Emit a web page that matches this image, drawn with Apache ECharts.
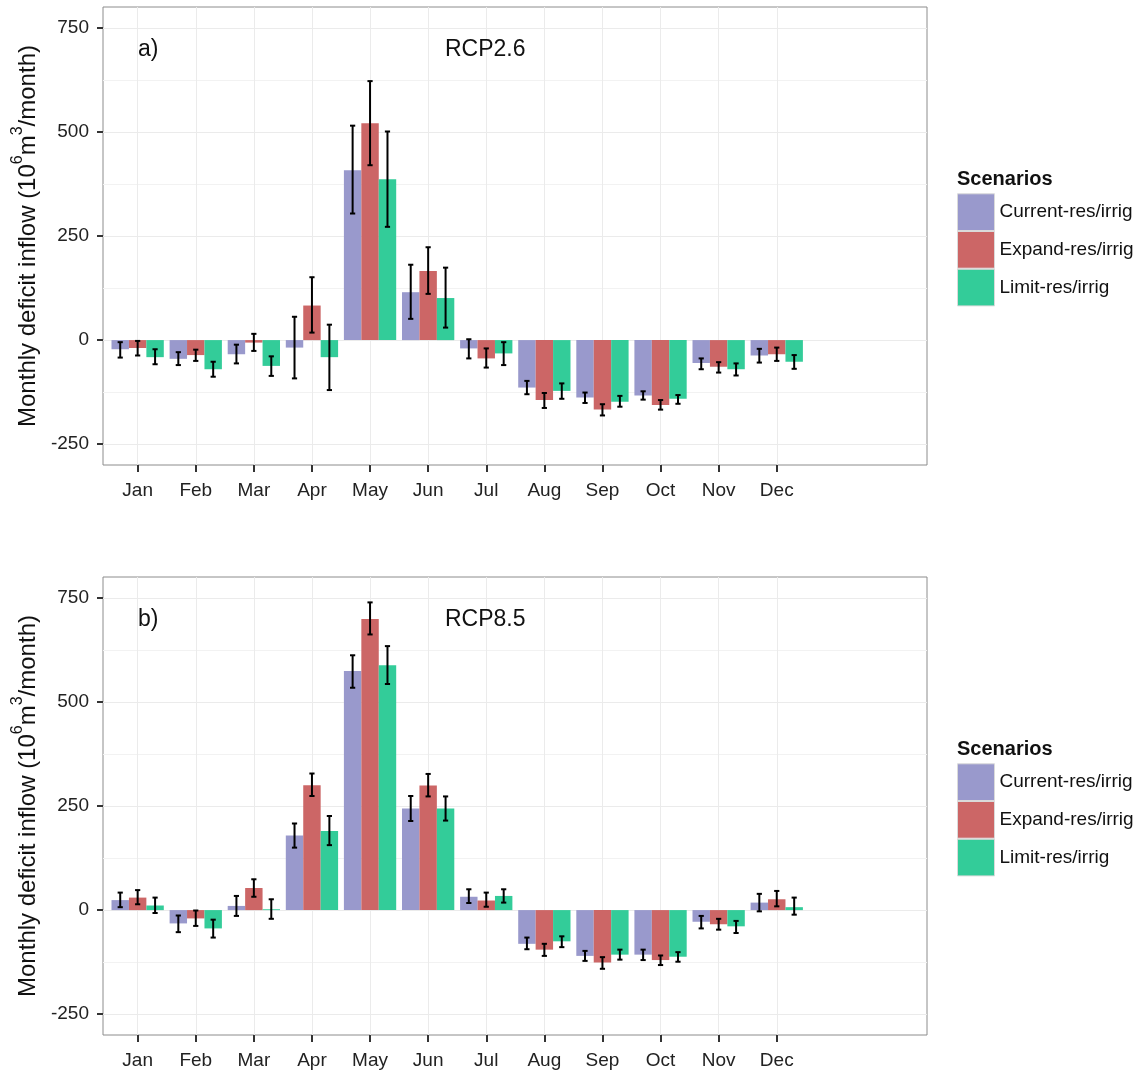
<!DOCTYPE html>
<html>
<head>
<meta charset="utf-8">
<script src="https://cdn.jsdelivr.net/npm/echarts@6/dist/echarts.min.js"></script>
<style>
  html, body { margin: 0; padding: 0; background: #fff; }
  #chart { width: 1145px; height: 1070px; }
</style>
</head>
<body>
<div id="chart"></div>
<script>
// ---------------- DATA ----------------
const months = ['Jan','Feb','Mar','Apr','May','Jun','Jul','Aug','Sep','Oct','Nov','Dec'];
const scenarioNames = ['Current-res/irrig','Expand-res/irrig','Limit-res/irrig'];
const yTickValues = [-250, 0, 250, 500, 750];
const yMinorValues = [-125, 125, 375, 625];

// Panel a) RCP2.6
const current26   = [-22, -45, -34, -18, 408, 115, -20, -114, -138, -133, -55, -37];
const current26Lo = [-42, -60, -56, -92, 304,  51, -44, -130, -151, -143, -70, -54];
const current26Hi = [ -5, -29, -11,  56, 515, 181,   2,  -98, -126, -123, -44, -21];
const expand26    = [-19, -36,  -6,  83, 521, 166, -44, -144, -167, -156, -64, -34];
const expand26Lo  = [-37, -50, -26,  18, 420, 111, -66, -163, -181, -167, -78, -50];
const expand26Hi  = [ -2, -23,  15, 151, 622, 223, -20, -127, -154, -144, -53, -18];
const limit26     = [-41, -70, -62, -41, 386, 101, -32, -122, -148, -141, -70, -52];
const limit26Lo   = [-58, -88, -86,-120, 272,  30, -60, -141, -160, -153, -85, -69];
const limit26Hi   = [-22, -52, -39,  37, 501, 174,  -5, -104, -134, -132, -56, -36];

// Panel b) RCP8.5
const current85   = [ 24, -32,  10, 179, 574, 244,  32,  -81, -110, -107, -28,  18];
const current85Lo = [  7, -53, -14, 150, 534, 214,  17,  -94, -122, -120, -44,  -3];
const current85Hi = [ 42, -13,  34, 208, 612, 274,  50,  -66,  -98,  -95, -14,  39];
const expand85    = [ 30, -20,  53, 300, 699, 299,  23,  -95, -126, -120, -34,  26];
const expand85Lo  = [ 14, -38,  32, 274, 662, 273,   8, -110, -141, -132, -47,   9];
const expand85Hi  = [ 48,  -1,  74, 328, 739, 327,  42,  -81, -113, -109, -21,  46];
const limit85     = [ 11, -44,   2, 190, 588, 244,  34,  -75, -107, -112, -39,   7];
const limit85Lo   = [ -7, -66, -21, 156, 543, 215,  18,  -89, -119, -124, -55, -11];
const limit85Hi   = [ 30, -23,  26, 226, 634, 273,  50,  -63,  -95, -101, -26,  30];

// ---------------- STYLE ----------------
const colors = ['#9999CC', '#CC6666', '#33CC99'];
const FONT = "'Liberation Sans', Arial, sans-serif";
const Y_MIN = -300, Y_MAX = 800;
const xCats = months.concat([' ', '  ']); // ggplot panel extends past Dec

const chart = echarts.init(document.getElementById('chart'), null, { renderer: 'canvas' });

function errRender(params, api) {
  const i = api.value(0), lo = api.value(1), hi = api.value(2), k = api.value(3);
  const band = api.size([1, 0])[0];
  const pLo = api.coord([i, lo]);
  const pHi = api.coord([i, hi]);
  const x = pLo[0] + (k - 1) * band * 0.3;
  const cap = 2.6;
  const st = { stroke: '#000', lineWidth: 2 };
  return {
    type: 'group',
    children: [
      { type: 'line', shape: { x1: x, y1: pLo[1], x2: x, y2: pHi[1] }, style: st },
      { type: 'line', shape: { x1: x - cap, y1: pHi[1], x2: x + cap, y2: pHi[1] }, style: st },
      { type: 'line', shape: { x1: x - cap, y1: pLo[1], x2: x + cap, y2: pLo[1] }, style: st }
    ]
  };
}

const grids = [], xAxes = [], yAxes = [], series = [], titles = [], legends = [];

function addPanel(top, tag, rcp, vals, los, his) {
  const gB = grids.length;       // border grid
  grids.push({ left: 103, top: top, width: 824, height: 458, show: true,
               borderColor: '#8c8c8c', borderWidth: 1, backgroundColor: 'transparent' });
  const gP = grids.length;       // bars grid
  grids.push({ left: 108.6, top: top, width: 813.4, height: 458 });

  xAxes.push({ gridIndex: gB, type: 'value', min: 0, max: 1, show: false });
  const xP = xAxes.length;
  xAxes.push({
    gridIndex: gP, type: 'category', data: xCats, position: 'bottom',
    axisLine: { show: false, onZero: false },
    axisTick: { show: true, alignWithLabel: true, length: 7,
                interval: (i) => i < 12, lineStyle: { color: '#333', width: 2 } },
    axisLabel: { interval: (i) => i < 12, fontSize: 19, color: '#222', margin: 16, fontFamily: FONT },
    splitLine: { show: true, alignWithLabel: true, interval: (i) => i < 12,
                 lineStyle: { color: '#ebebeb', width: 1 } }
  });

  yAxes.push({
    gridIndex: gB, type: 'value', min: Y_MIN, max: Y_MAX,
    axisLine: { show: false },
    axisTick: { show: true, length: 6, customValues: yTickValues, lineStyle: { color: '#333', width: 2 } },
    axisLabel: { customValues: yTickValues, fontSize: 19, color: '#222', margin: 14, fontFamily: FONT },
    splitLine: { show: true, lineStyle: { color: '#ebebeb', width: 1 } },
    name: '{a|Monthly deficit inflow (10}{s|6}{a|m}{s|3}{a|/month)}',
    nameLocation: 'middle', nameRotate: 90, nameGap: 56,
    nameTextStyle: {
      fontFamily: FONT, color: '#111',
      rich: {
        a: { fontSize: 24, lineHeight: 30, verticalAlign: 'bottom', fontFamily: FONT, color: '#111' },
        s: { fontSize: 16, lineHeight: 30, verticalAlign: 'top', fontFamily: FONT, color: '#111' }
      }
    }
  });
  yAxes.push({
    gridIndex: gB, type: 'value', min: Y_MIN, max: Y_MAX, position: 'left',
    axisLine: { show: false },
    axisTick: { show: false, customValues: yMinorValues },
    axisLabel: { show: false, customValues: yMinorValues },
    splitLine: { show: true, lineStyle: { color: '#f2f2f2', width: 1 } }
  });
  const yP = yAxes.length;
  yAxes.push({ gridIndex: gP, type: 'value', min: Y_MIN, max: Y_MAX, show: false });

  for (let k = 0; k < 3; k++) {
    series.push({
      type: 'bar', name: scenarioNames[k], xAxisIndex: xP, yAxisIndex: yP,
      data: vals[k], barGap: '0%', barCategoryGap: '10%',
      itemStyle: { color: colors[k] }, silent: true
    });
  }
  for (let k = 0; k < 3; k++) {
    const d = months.map((m, i) => [i, los[k][i], his[k][i], k]);
    series.push({
      type: 'custom', xAxisIndex: xP, yAxisIndex: yP, renderItem: errRender,
      data: d, z: 10, silent: true,
      encode: { x: 0, y: [1, 2] }
    });
  }

  titles.push({ text: tag, left: 138, top: top + 31.5, padding: 0,
                textStyle: { fontSize: 23, fontWeight: 'normal', color: '#111', fontFamily: FONT } });
  titles.push({ text: rcp, left: 445, top: top + 31.5, padding: 0,
                textStyle: { fontSize: 23, fontWeight: 'normal', color: '#111', fontFamily: FONT } });
  titles.push({ text: 'Scenarios', left: 957, top: top + 162, padding: 0,
                textStyle: { fontSize: 20, fontWeight: 'bold', color: '#111', fontFamily: FONT } });
  legends.push({
    orient: 'vertical', left: 957, top: top + 186.3, padding: 0,
    itemWidth: 37, itemHeight: 36.7, itemGap: 0, icon: 'rect', selectedMode: false,
    data: scenarioNames,
    itemStyle: { borderColor: '#dadada', borderWidth: 1 },
    textStyle: { fontSize: 19, color: '#111', fontFamily: FONT }
  });
}

addPanel(7, 'a)', 'RCP2.6',
  [current26, expand26, limit26], [current26Lo, expand26Lo, limit26Lo], [current26Hi, expand26Hi, limit26Hi]);
addPanel(577, 'b)', 'RCP8.5',
  [current85, expand85, limit85], [current85Lo, expand85Lo, limit85Lo], [current85Hi, expand85Hi, limit85Hi]);

chart.setOption({
  animation: false,
  backgroundColor: '#ffffff',
  textStyle: { fontFamily: FONT },
  title: titles,
  legend: legends,
  grid: grids,
  xAxis: xAxes,
  yAxis: yAxes,
  series: series
});
</script>
</body>
</html>
